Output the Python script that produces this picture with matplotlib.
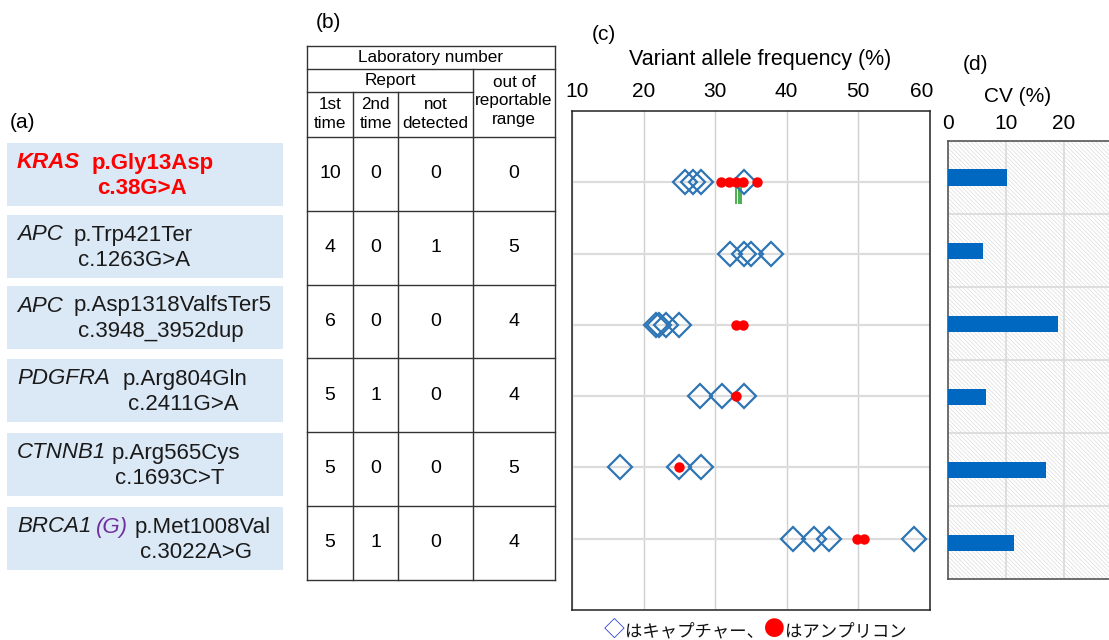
import matplotlib
matplotlib.use("Agg")
import matplotlib.pyplot as plt
from matplotlib.patches import Rectangle
from matplotlib.offsetbox import TextArea, HPacker, AnnotationBbox

plt.rcParams['font.family'] = ['Liberation Sans', 'DejaVu Sans']
plt.rcParams['hatch.linewidth'] = 0.5

# (a) variants
genes = ['KRAS', 'APC', 'APC', 'PDGFRA', 'CTNNB1', 'BRCA1']
proteins = ['p.Gly13Asp', 'p.Trp421Ter', 'p.Asp1318ValfsTer5',
            'p.Arg804Gln', 'p.Arg565Cys', 'p.Met1008Val']
cdnas = ['c.38G>A', 'c.1263G>A', 'c.3948_3952dup',
         'c.2411G>A', 'c.1693C>T', 'c.3022A>G']

# (b) laboratory numbers
first_time = [10, 4, 6, 5, 5, 5]
second_time = [0, 0, 0, 1, 0, 1]
not_detected = [0, 1, 0, 0, 0, 0]
out_of_range = [0, 5, 4, 4, 5, 4]

# (c) variant allele frequency (%)
capture_vaf = [
    [25.8, 26.9, 28.0, 34.0],
    [32.1, 34.0, 35.1, 37.9],
    [21.7, 22.2, 23.1, 25.0],
    [27.9, 31.0, 34.0],
    [16.7, 25.0, 28.0],
    [40.9, 43.8, 45.9, 57.9],
]
amplicon_vaf = [
    [30.9, 32.0, 33.0, 33.9, 35.9],
    [],
    [32.9, 33.9],
    [32.9],
    [25.0],
    [49.9, 50.9],
]
kras_green = [32.9, 33.3, 33.7]
vaf_ticks = [10, 20, 30, 40, 50, 60]

# (d) CV (%)
cv = [10.1, 6.1, 19.0, 6.6, 16.9, 11.4]
cv_ticks = [0, 10, 20]

W, H = 1109, 640
fig = plt.figure(figsize=(W / 100, H / 100), dpi=100)
bg = fig.add_axes([0, 0, 1, 1])
bg.set_xlim(0, W)
bg.set_ylim(H, 0)
bg.axis('off')

# ---- (a) ----
bg.text(10, 123, '(a)', fontsize=15, va='center')
box_tops = [143, 215, 286, 359, 433, 507]
prot_x = [92, 74, 74, 123, 112, 135]
cdna_x = [97, 78, 78, 128, 115, 140]
for i in range(6):
    top = box_tops[i]
    bg.add_patch(Rectangle((7, top), 276, 63, facecolor='#dbe8f5', edgecolor='none'))
    col = '#ff0000' if i == 0 else '#1a1a1a'
    fw = 'bold' if i == 0 else 'normal'
    kw = dict(fontsize=16, color=col, weight=fw, va='center')
    bg.text(17, top + 20, genes[i], style='italic', **kw)
    bg.text(prot_x[i], top + 20, proteins[i], **kw)
    bg.text(cdna_x[i], top + 46, cdnas[i], **kw)
    if genes[i] == 'BRCA1':
        bg.text(96, top + 20, '(G)', style='italic', fontsize=16,
                color='#7030a0', va='center')

# ---- (b) table ----
bg.text(316, 23, '(b)', fontsize=15, va='center')
cols = [307, 353, 398, 473, 555]
row_top, row_h = 137, 73.75
row_y = [row_top + k * row_h for k in range(7)]
lc = dict(color='#333333', lw=1)
bg.plot([cols[0], cols[4]], [46, 46], **lc)
bg.plot([cols[0], cols[4]], [69, 69], **lc)
bg.plot([cols[0], cols[3]], [92, 92], **lc)
for y in row_y:
    bg.plot([cols[0], cols[4]], [y, y], **lc)
bg.plot([cols[0], cols[0]], [46, row_y[-1]], **lc)
bg.plot([cols[4], cols[4]], [46, row_y[-1]], **lc)
bg.plot([cols[3], cols[3]], [69, row_y[-1]], **lc)
bg.plot([cols[1], cols[1]], [92, row_y[-1]], **lc)
bg.plot([cols[2], cols[2]], [92, row_y[-1]], **lc)

hk = dict(fontsize=12.3, ha='center', va='center', linespacing=1.3)
bg.text((cols[0] + cols[4]) / 2, 57.5, 'Laboratory number', **hk)
bg.text((cols[0] + cols[3]) / 2, 80.5, 'Report', **hk)
bg.text((cols[3] + cols[4]) / 2, 101, 'out of\nreportable\nrange', **hk)
bg.text((cols[0] + cols[1]) / 2, 114, '1st\ntime', **hk)
bg.text((cols[1] + cols[2]) / 2, 114, '2nd\ntime', **hk)
bg.text((cols[2] + cols[3]) / 2, 114, 'not\ndetected', **hk)
table_cols = [first_time, second_time, not_detected, out_of_range]
for i in range(6):
    yc = (row_y[i] + row_y[i + 1]) / 2
    for j, vals in enumerate(table_cols):
        bg.text((cols[j] + cols[j + 1]) / 2, yc, str(vals[i]),
                fontsize=14, ha='center', va='center')

# ---- (c) VAF ----
bg.text(604, 34, '(c)', fontsize=15, ha='center', va='center')
bg.text(760, 60, 'Variant allele frequency (%)', fontsize=15.5, ha='center', va='center')
axc = fig.add_axes([572 / W, 1 - 610 / H, (929.5 - 572) / W, (610 - 111) / H])
axc.set_xlim(10, 60)
axc.set_ylim(7, 0)
axc.set_xticks(vaf_ticks)
axc.set_xticklabels([])
axc.set_yticks(range(1, 7))
axc.set_yticklabels([])
axc.tick_params(length=0)
# tick labels drawn as annotations so the end ones can sit inside like the original
nudge = {10: 3.6, 60: -5.8}
for v in vaf_ticks:
    axc.annotate(str(v), (v, 1), xycoords=('data', 'axes fraction'),
                 xytext=(nudge.get(v, 0), 7), textcoords='offset points',
                 ha='center', va='bottom', fontsize=15, annotation_clip=False)
axc.grid(axis='x', color='#d0d0d0', lw=1)
axc.grid(axis='y', color='#dcdcdc', lw=1.6)
axc.set_axisbelow(True)
for s in axc.spines.values():
    s.set_color('#222222')
    s.set_linewidth(1.1)
for i in range(6):
    axc.plot(capture_vaf[i], [i + 1] * len(capture_vaf[i]), ls='none', marker='D',
             ms=12, mfc='none', mec='#2e75b6', mew=1.6, zorder=3)
    if amplicon_vaf[i]:
        axc.plot(amplicon_vaf[i], [i + 1] * len(amplicon_vaf[i]), ls='none', marker='o',
                 ms=7.5, mfc='#ff0000', mec='none', zorder=4)
axc.vlines(kras_green, 1.05, 1.3, color='#4caf50', lw=1.4, zorder=2)

jp = ['Noto Sans CJK JP', 'DejaVu Sans']
parts = [('◇', '#2a3cd0', 15), ('はキャプチャー、', '#111111', 12.5),
         ('●', '#ff0000', 15), ('はアンプリコン', '#111111', 12.5)]
areas = [TextArea(t, textprops=dict(color=c, fontsize=fs, family=jp, va='baseline'))
         for t, c, fs in parts]
pack = HPacker(children=areas, pad=0, sep=0, align='baseline')
bg.add_artist(AnnotationBbox(pack, (755, 630), xycoords='data', frameon=False,
                             box_alignment=(0.5, 0.5)))

# ---- (d) CV ----
bg.text(975, 65, '(d)', fontsize=15, ha='center', va='center')
bg.text(1018, 97, 'CV (%)', fontsize=15, ha='center', va='center')
axd = fig.add_axes([948.3 / W, 1 - 579.3 / H, 173.1 / W, (579.3 - 141) / H])
axd.set_xlim(0, 30)
axd.set_ylim(6.5, 0.5)
axd.add_patch(Rectangle((0, 0.5), 30, 6, hatch='\\' * 8, facecolor='white',
                        edgecolor='#dddddd', lw=0, zorder=0))
for x in [10, 20]:
    axd.axvline(x, color='#d9d9d9', lw=1.2, zorder=1)
for y in [1.5, 2.5, 3.5, 4.5, 5.5]:
    axd.axhline(y, color='#d9d9d9', lw=1.2, zorder=1)
axd.barh(range(1, 7), cv, height=0.22, color='#0068c0', zorder=3)
axd.set_xticks(cv_ticks)
axd.set_yticks([])
axd.xaxis.tick_top()
axd.tick_params(length=0, labelsize=15, pad=6)
for s in axd.spines.values():
    s.set_color('#555555')
    s.set_linewidth(1.2)
axd.spines['right'].set_visible(False)

fig.savefig('out.png', dpi=100)
